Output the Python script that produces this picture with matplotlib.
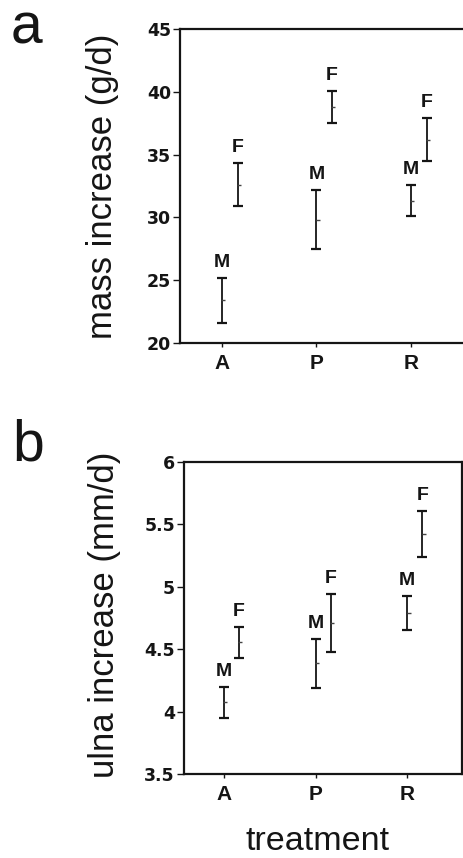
import matplotlib
matplotlib.use("Agg")
import matplotlib.pyplot as plt
import numpy as np

# Treatment groups and sexes
treatments = ["A", "P", "R"]
sexes = ["M", "F"]

# Panel a: mass increase (g/d) -- mean, lower and upper error limits
mass_mean_M = [23.4, 29.8, 31.3]
mass_low_M = [21.6, 27.5, 30.1]
mass_high_M = [25.2, 32.2, 32.6]
mass_mean_F = [32.6, 38.8, 36.2]
mass_low_F = [30.9, 37.5, 34.5]
mass_high_F = [34.3, 40.1, 37.9]

# Panel b: ulna increase (mm/d)
ulna_mean_M = [4.08, 4.39, 4.79]
ulna_low_M = [3.95, 4.19, 4.65]
ulna_high_M = [4.20, 4.58, 4.93]
ulna_mean_F = [4.56, 4.71, 5.42]
ulna_low_F = [4.43, 4.48, 5.24]
ulna_high_F = [4.68, 4.94, 5.61]

mass_ticks = [20, 25, 30, 35, 40, 45]
mass_ticklabels = ["20", "25", "30", "35", "40", "45"]
ulna_ticks = [3.5, 4, 4.5, 5, 5.5, 6]
ulna_ticklabels = ["3.5", "4", "4.5", "5", "5.5", "6"]

W, H = 463, 858
fig = plt.figure(figsize=(W / 100, H / 100), dpi=100)
fig.patch.set_facecolor("white")

INK = "#151515"
SANS = "Liberation Sans"


def px_rect(left, top, right, bottom):
    return [left / W, 1 - bottom / H, (right - left) / W, (bottom - top) / H]


def draw_panel(ax, means, lows, highs, yticks, yticklabels, ylim, xlim):
    x = np.arange(1, len(treatments) + 1, dtype=float)
    offsets = {"M": 0.0, "F": 0.165}
    for sex, mean, lo, hi in zip(sexes, means, lows, highs):
        xs = x + offsets[sex]
        mean = np.asarray(mean)
        yerr = np.vstack([mean - np.asarray(lo), np.asarray(hi) - mean])
        ax.errorbar(xs, mean, yerr=yerr, fmt="none", ecolor=INK,
                    elinewidth=1.3, capsize=3.4, capthick=1.6)
        ax.plot(xs + 0.015, mean, linestyle="none", marker="_",
                markersize=3.5, markeredgewidth=1.0, color="#444444")
        for xi, top in zip(xs, hi):
            ax.annotate(sex, (xi, top), xytext=(0, 5),
                        textcoords="offset points", ha="center", va="bottom",
                        fontsize=14, fontweight="bold", family=SANS,
                        color=INK)
    ax.set_xlim(*xlim)
    ax.set_ylim(*ylim)
    ax.set_xticks(x)
    ax.set_xticklabels(treatments, fontsize=15, fontweight="bold",
                       family=SANS, color=INK)
    ax.set_yticks(yticks)
    ax.set_yticklabels(yticklabels, fontsize=12.5, fontweight="bold",
                       family="DejaVu Sans", color=INK)
    ax.tick_params(axis="y", length=5, width=1.0, pad=1.5, color=INK)
    ax.tick_params(axis="x", length=3, width=1.0, pad=5, color=INK)
    for s in ax.spines.values():
        s.set_linewidth(1.6)
        s.set_color(INK)
    ax.set_facecolor("white")


ax_a = fig.add_axes(px_rect(180, 29, 467, 343))
draw_panel(ax_a, [mass_mean_M, mass_mean_F], [mass_low_M, mass_low_F],
           [mass_high_M, mass_high_F], mass_ticks, mass_ticklabels,
           (20, 45), (0.556, 3.593))

ax_b = fig.add_axes(px_rect(184, 462, 462, 774))
draw_panel(ax_b, [ulna_mean_M, ulna_mean_F], [ulna_low_M, ulna_low_F],
           [ulna_high_M, ulna_high_F], ulna_ticks, ulna_ticklabels,
           (3.5, 6), (0.564, 3.597))

# Axis titles
fig.text(103 / W, 1 - 186 / H, "mass increase (g/d)", rotation=90,
         ha="center", va="center", fontsize=25, family=SANS, color=INK)
fig.text(105 / W, 1 - 615 / H, "ulna increase (mm/d)", rotation=90,
         ha="center", va="center", fontsize=25, family=SANS, color=INK)
fig.text(318 / W, 1 - 856.5 / H, "treatment", ha="center", va="bottom",
         fontsize=24.5, family=SANS, color=INK)

# Panel letters
fig.text(11 / W, 1 - 44 / H, "a", ha="left", va="baseline",
         fontsize=41, family=SANS, color=INK)
fig.text(12 / W, 1 - 460 / H, "b", ha="left", va="baseline",
         fontsize=41, family=SANS, color=INK)

fig.savefig("out.png", dpi=100, facecolor="white")
